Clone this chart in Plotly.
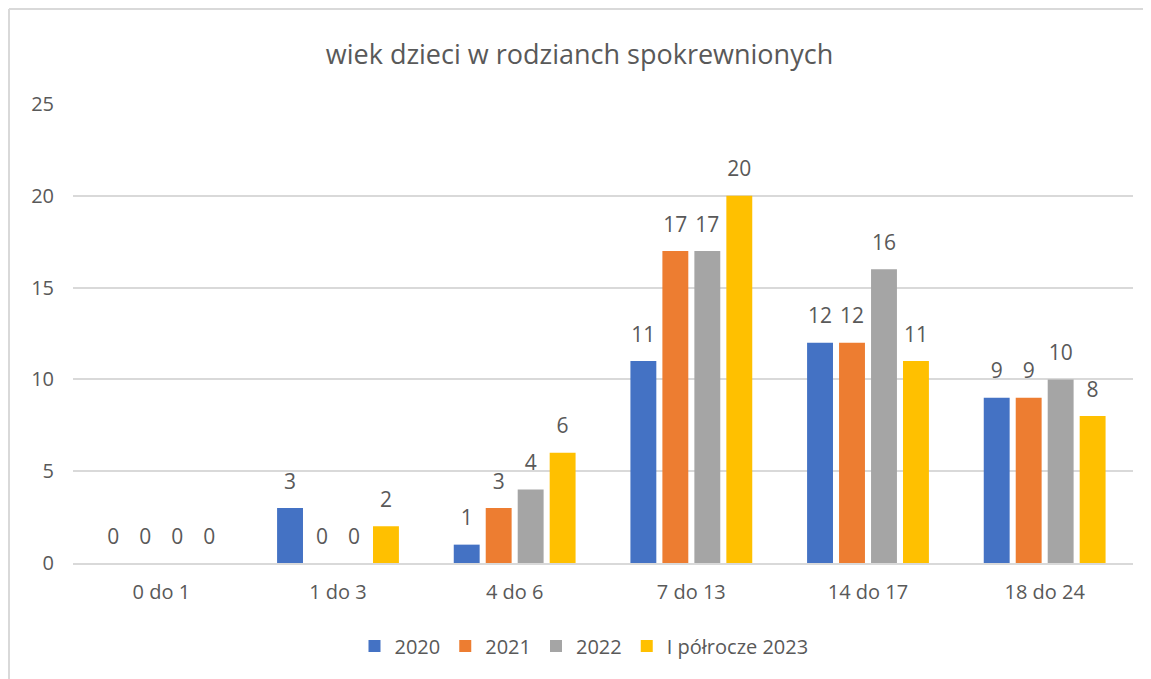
import plotly.graph_objects as go

categories = ['0 do 1', '1 do 3', '4 do 6', '7 do 13', '14 do 17', '18 do 24']
series_names = ['2020', '2021', '2022', 'I półrocze 2023']
values_2020 = [0, 3, 1, 11, 12, 9]
values_2021 = [0, 0, 3, 17, 12, 9]
values_2022 = [0, 0, 4, 17, 16, 10]
values_2023h1 = [0, 2, 6, 20, 11, 8]

colors = ['#4472C4', '#ED7D31', '#A5A5A5', '#FFC000']
font_name = 'Open Sans, Noto Sans, sans-serif'
text_grey = '#595959'

fig = go.Figure()
all_vals = [values_2020, values_2021, values_2022, values_2023h1]
for name, vals, col in zip(series_names, all_vals, colors):
    fig.add_trace(go.Bar(
        x=categories, y=vals, name=name, offsetgroup=name,
        marker=dict(color=col, line=dict(width=0)),
    ))
# value labels as grouped scatters with invisible markers, which push the text up
for name, vals in zip(series_names, all_vals):
    fig.add_trace(go.Scatter(
        x=categories, y=vals, offsetgroup=name, mode='markers+text',
        text=[str(v) for v in vals], textposition='top center',
        marker=dict(size=21, color='rgba(0,0,0,0)'),
        textfont=dict(size=21, color=text_grey, family=font_name),
        showlegend=False, hoverinfo='skip', cliponaxis=False,
    ))

# page body has an 8px margin, so the figure is drawn from (8, 8)
OFF = 8
W, H = 1151 - OFF, 679 - OFF
L, R, T, B = 73 - OFF, 18, 104 - OFF, 116
pw, ph = W - L - R, H - T - B

def px_x(x):
    return (x - OFF - L) / pw

def px_y(y):
    return (H - B - (y - OFF)) / ph

# chart frame (left and top edges visible in screenshot)
fig.add_shape(type='line', xref='paper', yref='paper',
              x0=px_x(9), x1=px_x(9), y0=px_y(9), y1=px_y(690),
              line=dict(color='#D9D9D9', width=2))
fig.add_shape(type='line', xref='paper', yref='paper',
              x0=px_x(9), x1=px_x(1160), y0=px_y(9), y1=px_y(9),
              line=dict(color='#D9D9D9', width=2))

fig.update_layout(
    width=W, height=H,
    margin=dict(l=L, r=R, t=T, b=B),
    paper_bgcolor='white', plot_bgcolor='white',
    barmode='group', bargap=0.276, bargroupgap=0.19,
    scattermode='group', scattergap=0.276,
    font=dict(family=font_name, color=text_grey),
    title=dict(text='wiek dzieci w rodzianch spokrewnionych',
               x=0.5, xanchor='center', y=1 - (55 - OFF) / H, yanchor='middle',
               font=dict(size=27, color=text_grey, family=font_name)),
    legend=dict(orientation='h', x=px_x(584), xanchor='center',
                y=px_y(646), yanchor='middle',
                font=dict(size=20, color=text_grey, family=font_name),
                itemwidth=30, traceorder='normal'),
    xaxis=dict(showgrid=False, showline=True, linecolor='#D9D9D9', linewidth=2,
               ticks='', tickfont=dict(size=20, color=text_grey),
               ticklabelstandoff=10),
    yaxis=dict(range=[0, 25], dtick=5, showgrid=True, gridcolor='#D9D9D9',
               gridwidth=2, zeroline=False, showline=False,
               tickfont=dict(size=20, color=text_grey), ticklabelstandoff=18),
)

fig.write_html('out.html')
